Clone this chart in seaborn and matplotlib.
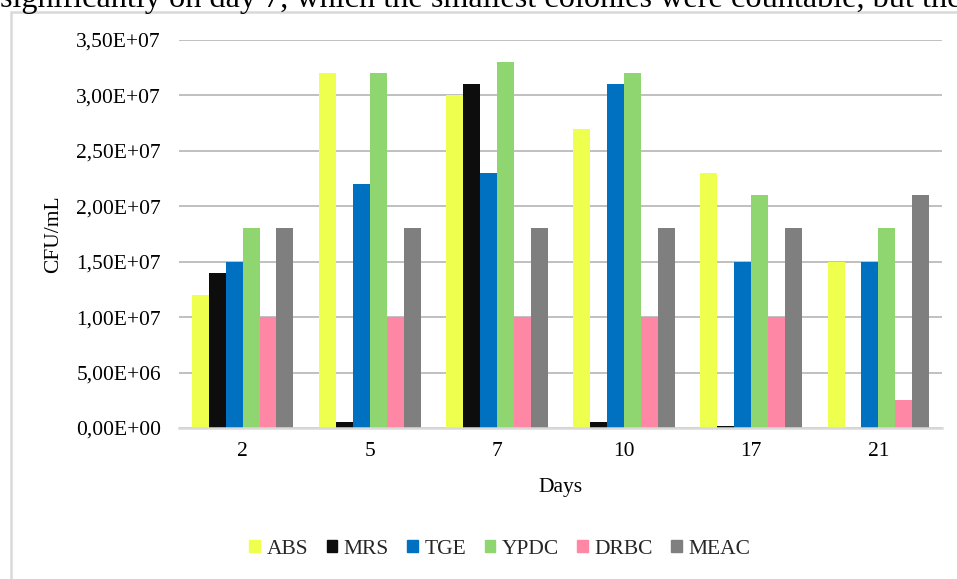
import matplotlib
matplotlib.use("Agg")
import matplotlib.pyplot as plt
from matplotlib.patches import Rectangle
from matplotlib.ticker import FuncFormatter, MultipleLocator
import pandas as pd
import seaborn as sns

# Sampling days and culture media
days = ["2", "5", "7", "10", "17", "21"]
media = ["ABS", "MRS", "TGE", "YPDC", "DRBC", "MEAC"]

# CFU/mL counts per medium, one value per sampling day
abs_counts = [1.2e7, 3.2e7, 3.0e7, 2.7e7, 2.3e7, 1.5e7]
mrs_counts = [1.4e7, 5.5e5, 3.1e7, 5.5e5, 2.0e5, 0.0]
tge_counts = [1.5e7, 2.2e7, 2.3e7, 3.1e7, 1.5e7, 1.5e7]
ypdc_counts = [1.8e7, 3.2e7, 3.3e7, 3.2e7, 2.1e7, 1.8e7]
drbc_counts = [1.0e7, 1.0e7, 1.0e7, 1.0e7, 1.0e7, 2.5e6]
meac_counts = [1.8e7, 1.8e7, 1.8e7, 1.8e7, 1.8e7, 2.1e7]

colors = ["#EFFF4E", "#0D0D0D", "#0070C0", "#90D670", "#FF87A6", "#7F7F7F"]

counts = {
    "ABS": abs_counts,
    "MRS": mrs_counts,
    "TGE": tge_counts,
    "YPDC": ypdc_counts,
    "DRBC": drbc_counts,
    "MEAC": meac_counts,
}
rows = []
for medium in media:
    for day, value in zip(days, counts[medium]):
        rows.append({"Days": day, "Medium": medium, "CFU/mL": value})
df = pd.DataFrame(rows)

sns.set_theme(style="white")
plt.rcParams["font.family"] = ["Liberation Serif", "DejaVu Serif"]
FS = 15.5
plt.rcParams["font.size"] = FS

fig = plt.figure(figsize=(9.57, 5.79), dpi=100)
ax = fig.add_axes([179 / 957, 1 - 428 / 579, (942 - 179) / 957, (428 - 40) / 579])

sns.barplot(
    data=df, x="Days", y="CFU/mL", hue="Medium",
    order=days, hue_order=media, palette=colors,
    width=0.8, saturation=1, errorbar=None, ax=ax, legend=False,
    linewidth=0,
)

ax.set_ylim(0, 3.5e7)
ax.yaxis.set_major_locator(MultipleLocator(5e6))
ax.yaxis.set_major_formatter(FuncFormatter(lambda v, _: f"{v:.2E}".replace(".", ",")))
ax.grid(axis="y", color="#C0C0C0", linewidth=1.4)
ax.set_axisbelow(True)
for side in ["top", "right", "left"]:
    ax.spines[side].set_visible(False)
ax.spines["bottom"].set_color("#D9D9D9")
ax.spines["bottom"].set_linewidth(1.8)
ax.tick_params(axis="both", length=0, labelsize=FS, colors="black")
ax.tick_params(axis="y", pad=13)
ax.tick_params(axis="x", pad=10)

ax.set_xlabel("Days", fontsize=FS, color="black")
ax.set_ylabel("CFU/mL", fontsize=FS, color="black")
ax.xaxis.set_label_coords(0.5, -0.128)
ax.yaxis.set_label_coords(-0.152, 0.5)

# Legend with small square swatches
handles = [Rectangle((0, 0), 1, 1, color=c) for c in colors]
fig.legend(
    handles, media, loc="center", bbox_to_anchor=(500 / 957, 1 - 549 / 579),
    ncol=6, frameon=False, fontsize=FS, handlelength=0.5, handleheight=0.5,
    handletextpad=0.3, columnspacing=0.85,
)

# Chart frame
fig.add_artist(Rectangle((11 / 957, -0.05), 1.2, 1 - 12 / 579 + 0.05,
                         transform=fig.transFigure, fill=False,
                         edgecolor="#D9D9D9", linewidth=1.8))

# Running text above the chart
fig.text(0, 1 - 7 / 579,
         "significantly on day 7, which the smallest colonies were countable, but the",
         fontsize=23.2, ha="left", va="baseline", color="black")

fig.savefig("out.png", dpi=100)
